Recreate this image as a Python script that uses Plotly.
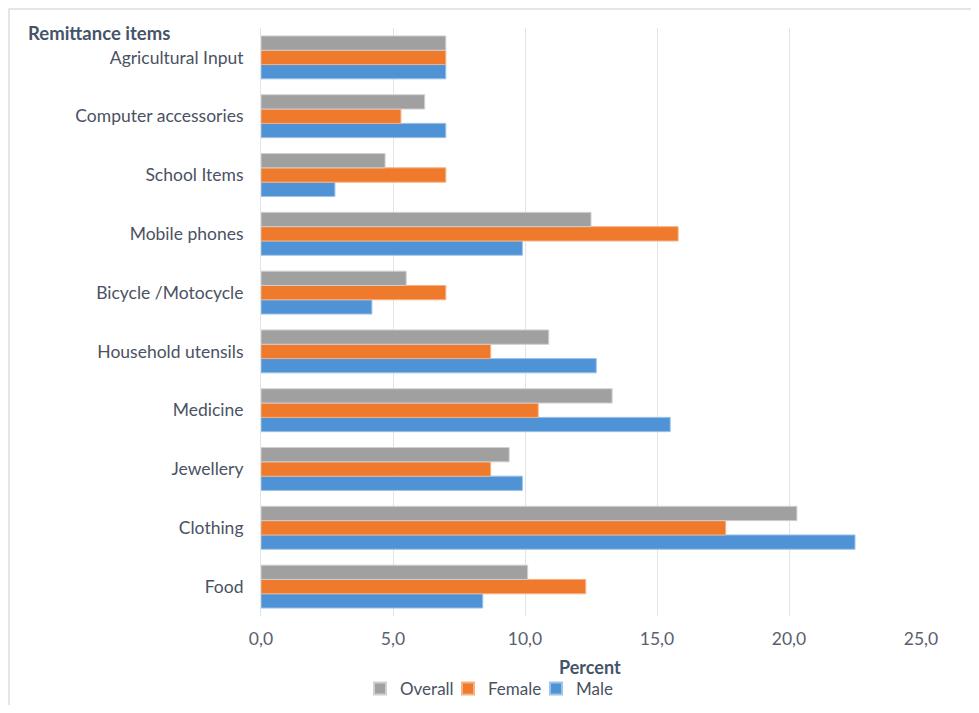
import plotly.graph_objects as go

categories = ["Food", "Clothing", "Jewellery", "Medicine", "Household utensils",
              "Bicycle /Motocycle", "Mobile phones", "School Items",
              "Computer accessories", "Agricultural Input"]
male = [8.4, 22.5, 9.9, 15.5, 12.7, 4.2, 9.9, 2.8, 7.0, 7.0]
female = [12.3, 17.6, 8.7, 10.5, 8.7, 7.0, 15.8, 7.0, 5.3, 7.0]
overall = [10.1, 20.3, 9.4, 13.3, 10.9, 5.5, 12.5, 4.7, 6.2, 7.0]
tick_vals = [0, 5, 10, 15, 20, 25]

FONT = "Lato"
TXT = "#4a5263"

fig = go.Figure()
fig.add_trace(go.Bar(y=categories, x=male, name="Male", orientation="h",
                     marker=dict(color="#4f93d6", line=dict(color="#9dc3e6", width=1))))
fig.add_trace(go.Bar(y=categories, x=female, name="Female", orientation="h",
                     marker=dict(color="#ef7a2b", line=dict(color="#f4b183", width=1))))
fig.add_trace(go.Bar(y=categories, x=overall, name="Overall", orientation="h",
                     marker=dict(color="#a0a0a0", line=dict(color="#d0d0d0", width=1))))

# page is offset by the 8px body margin
OFF = 8
W, H = 971, 697
pl, pr, pt, pb = 261, 921, 28, 616  # plot area in page pixels
L, R, T, B = pl - OFF, W - (pr - OFF), pt - OFF, H - (pb - OFF)
pw, ph = W - L - R, H - T - B

def px_x(x):
    return (x - OFF - L) / pw

def px_y(y):
    return (H - B - (y - OFF)) / ph

def fx(v):  # figure pixel -> paper x
    return (v - L) / pw

def fy(v):  # figure pixel -> paper y
    return (H - B - v) / ph

fig.update_layout(
    width=W, height=H,
    margin=dict(l=L, r=R, t=T, b=B, autoexpand=False),
    paper_bgcolor="white", plot_bgcolor="white",
    barmode="group", bargap=0.27, bargroupgap=0,
    separators=",.",
    font=dict(family=FONT, size=17, color=TXT),
    showlegend=True,
    legend=dict(orientation="h", traceorder="reversed",
                x=px_x(360), y=px_y(689), xanchor="left", yanchor="middle",
                font=dict(family=FONT, size=17, color=TXT),
                itemwidth=30, itemsizing="constant", bgcolor="rgba(0,0,0,0)",
                entrywidth=43, entrywidthmode="pixels",
                tracegroupgap=0),
    xaxis=dict(range=[0, 25], tickvals=tick_vals, tickformat=".1f",
               showgrid=True, gridcolor="#e1e5ea", gridwidth=1,
               zeroline=False, showline=False, ticks="",
               ticklabelstandoff=10,
               tickfont=dict(family=FONT, size=17.5, color="#5a6070")),
    yaxis=dict(showgrid=False, showline=True, linecolor="#e1e5ea", linewidth=1,
               ticks="", ticklabelstandoff=13,
               tickfont=dict(family=FONT, size=17.5, color=TXT)),
    annotations=[
        dict(text="<b>Remittance items</b>", xref="paper", yref="paper",
             x=px_x(26), y=px_y(33), xanchor="left", yanchor="middle",
             showarrow=False, font=dict(family=FONT, size=18.5, color="#44546A")),
        dict(text="<b>Percent</b>", xref="paper", yref="paper",
             x=px_x(590), y=px_y(667), xanchor="center", yanchor="middle",
             showarrow=False, font=dict(family=FONT, size=18, color="#44546A")),
    ],
    shapes=[dict(type="rect", xref="paper", yref="paper",
                 x0=fx(1), x1=fx(968), y0=fy(H + 5), y1=fy(1),
                 line=dict(color="#d9dde3", width=1.5), fillcolor="rgba(0,0,0,0)",
                 layer="below")],
)

fig.write_html("out.html")
